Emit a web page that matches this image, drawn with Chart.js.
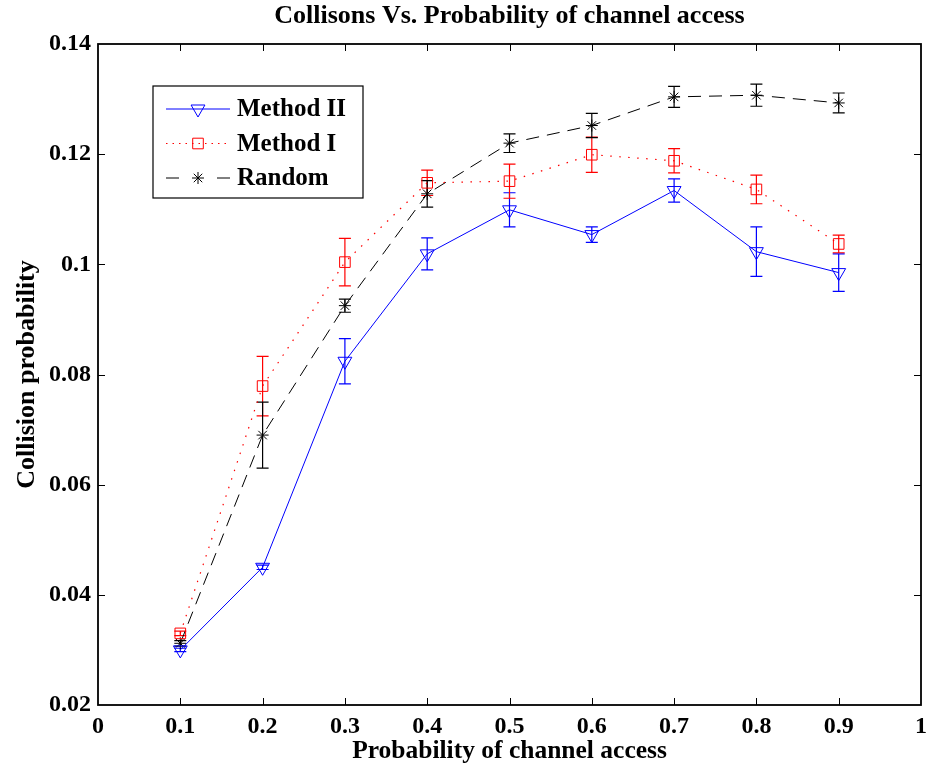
<!DOCTYPE html>
<html>
<head>
<meta charset="utf-8">
<script src="https://cdn.jsdelivr.net/npm/chart.js@4.4.0/dist/chart.umd.min.js"></script>
<style>
  html, body { margin: 0; padding: 0; background: #ffffff; }
  #wrap { width: 930px; height: 771px; }
</style>
</head>
<body>
<div id="wrap"><canvas id="chart" width="930" height="771"></canvas></div>
<script>
// Probability of channel access (x) and measured collision probability per scheme
const accessProb = [0.1, 0.2, 0.3, 0.4, 0.5, 0.6, 0.7, 0.8, 0.9];

const methodII    = [0.0300, 0.0450, 0.0824, 0.1019, 0.1099, 0.1054, 0.1134, 0.1023, 0.0985];
const methodIIErr = [0.0003, 0.0004, 0.0041, 0.0029, 0.0031, 0.0014, 0.0021, 0.0045, 0.0034];

const methodI     = [0.0330, 0.0779, 0.1004, 0.1148, 0.1151, 0.1199, 0.1188, 0.1136, 0.1037];
const methodIErr  = [0.0004, 0.0054, 0.0043, 0.0023, 0.0031, 0.0032, 0.0022, 0.0026, 0.0016];

const randomAcc   = [0.0312, 0.0690, 0.0925, 0.1128, 0.1220, 0.1252, 0.1304, 0.1307, 0.1293];
const randomErr   = [0.0005, 0.0060, 0.0012, 0.0024, 0.0017, 0.0022, 0.0019, 0.0020, 0.0018];

const seriesNames = ['Method II', 'Method I', 'Random'];
const xTickLabels = ['0', '0.1', '0.2', '0.3', '0.4', '0.5', '0.6', '0.7', '0.8', '0.9', '1'];
const yTickLabels = ['0.02', '0.04', '0.06', '0.08', '0.1', '0.12', '0.14'];

const SERIF = '"Liberation Serif", "Times New Roman", serif';

function toPoints(ys) {
  return accessProb.map((x, i) => ({ x: x, y: ys[i] }));
}

const datasets = [
  {
    label: seriesNames[0],
    data: toPoints(methodII),
    errors: methodIIErr,
    borderColor: '#0000ff',
    borderWidth: 1,
    borderDash: [],
    pointStyle: 'triangle',
    pointRotation: 180,
    pointRadius: 8,
    pointBorderColor: '#0000ff',
    pointBackgroundColor: 'rgba(0,0,0,0)',
    pointBorderWidth: 1,
    legendDash: [],
    tension: 0
  },
  {
    label: seriesNames[1],
    data: toPoints(methodI),
    errors: methodIErr,
    borderColor: '#ff0000',
    borderWidth: 1.2,
    borderDash: [1.5, 7.5],
    pointStyle: 'rect',
    pointRotation: 0,
    pointRadius: 7.5,
    pointBorderColor: '#ff0000',
    pointBackgroundColor: 'rgba(0,0,0,0)',
    pointBorderWidth: 1,
    legendDash: [1.5, 5],
    tension: 0
  },
  {
    label: seriesNames[2],
    data: toPoints(randomAcc),
    errors: randomErr,
    borderColor: '#000000',
    borderWidth: 1,
    borderDash: [13, 8],
    pointStyle: 'star',
    pointRotation: 0,
    pointRadius: 6,
    pointBorderColor: '#000000',
    pointBackgroundColor: 'rgba(0,0,0,0)',
    pointBorderWidth: 1,
    legendDash: [13, 38],
    tension: 0
  }
];

// Vertical error bars with caps, drawn under the markers
const errorBars = {
  id: 'errorBars',
  beforeDatasetsDraw(chart) {
    const { ctx, scales: { x, y } } = chart;
    ctx.save();
    chart.data.datasets.forEach(ds => {
      ctx.strokeStyle = ds.borderColor;
      ctx.lineWidth = 1.2;
      ctx.setLineDash([]);
      ds.data.forEach((p, i) => {
        const e = ds.errors[i];
        const px = x.getPixelForValue(p.x);
        const yTop = y.getPixelForValue(p.y + e);
        const yBot = y.getPixelForValue(p.y - e);
        const cap = 6;
        ctx.beginPath();
        ctx.moveTo(px, yTop); ctx.lineTo(px, yBot);
        ctx.moveTo(px - cap, yTop); ctx.lineTo(px + cap, yTop);
        ctx.moveTo(px - cap, yBot); ctx.lineTo(px + cap, yBot);
        ctx.stroke();
      });
    });
    ctx.restore();
  }
};

// Boxed axes with inward tick marks on all four sides
const boxedAxes = {
  id: 'boxedAxes',
  afterDraw(chart) {
    const { ctx, chartArea: a, scales: { x, y } } = chart;
    const len = 7;
    ctx.save();
    ctx.strokeStyle = '#000000';
    ctx.lineWidth = 1;
    ctx.setLineDash([]);
    ctx.beginPath();
    x.ticks.forEach((t, i) => {
      if (i === 0 || i === x.ticks.length - 1) return;
      const px = Math.round(x.getPixelForValue(t.value)) + 0.5;
      ctx.moveTo(px, a.bottom); ctx.lineTo(px, a.bottom - len);
      ctx.moveTo(px, a.top); ctx.lineTo(px, a.top + len);
    });
    y.ticks.forEach((t, i) => {
      if (i === 0 || i === y.ticks.length - 1) return;
      const py = Math.round(y.getPixelForValue(t.value)) + 0.5;
      ctx.moveTo(a.left, py); ctx.lineTo(a.left + len, py);
      ctx.moveTo(a.right, py); ctx.lineTo(a.right - len, py);
    });
    ctx.stroke();
    ctx.lineWidth = 1.8;
    ctx.strokeRect(a.left, a.top, a.right - a.left, a.bottom - a.top);
    ctx.restore();
  }
};

// Legend box placed inside the plot area, upper left
const insideLegend = {
  id: 'insideLegend',
  afterDraw(chart) {
    const { ctx, chartArea: a } = chart;
    const left = a.left + 55, top = a.top + 42, w = 210, h = 112;
    const rowH = 34.5, firstRow = top + 23;
    ctx.save();
    ctx.fillStyle = '#ffffff';
    ctx.fillRect(left, top, w, h);
    ctx.strokeStyle = '#000000';
    ctx.lineWidth = 1.2;
    ctx.strokeRect(left, top, w, h);
    chart.data.datasets.forEach((ds, i) => {
      const ry = firstRow + i * rowH;
      const x0 = left + 13, x1 = left + 77, xm = (x0 + x1) / 2;
      ctx.strokeStyle = ds.borderColor;
      ctx.lineWidth = ds.borderWidth;
      ctx.setLineDash(ds.legendDash);
      ctx.beginPath();
      ctx.moveTo(x0, ry); ctx.lineTo(x1, ry);
      ctx.stroke();
      ctx.setLineDash([]);
      if (Chart.helpers && Chart.helpers.drawPoint) {
        ctx.strokeStyle = ds.pointBorderColor;
        ctx.fillStyle = 'rgba(0,0,0,0)';
        ctx.lineWidth = ds.pointBorderWidth;
        Chart.helpers.drawPoint(ctx, {
          pointStyle: ds.pointStyle,
          rotation: ds.pointRotation,
          radius: ds.pointRadius,
          borderWidth: ds.pointBorderWidth
        }, xm, ry);
      }
      ctx.fillStyle = '#000000';
      ctx.font = 'bold 25px ' + SERIF;
      ctx.textAlign = 'left';
      ctx.textBaseline = 'middle';
      ctx.fillText(ds.label, left + 84, ry + 1);
    });
    ctx.restore();
  }
};

new Chart(document.getElementById('chart'), {
  type: 'line',
  data: { datasets: datasets },
  options: {
    responsive: false,
    animation: false,
    devicePixelRatio: 1,
    events: [],
    layout: { padding: { left: 0, right: 8, top: 0, bottom: 0 } },
    plugins: {
      legend: { display: false },
      tooltip: { enabled: false },
      title: {
        display: true,
        fullSize: false,
        text: 'Collisons Vs. Probability of channel access',
        color: '#000000',
        font: { family: SERIF, size: 26, weight: 'bold', lineHeight: 1.1 },
        padding: { top: 2, bottom: 13.4 }
      }
    },
    scales: {
      x: {
        type: 'linear',
        min: 0,
        max: 1,
        grid: { display: false, drawTicks: false },
        border: { display: false },
        ticks: {
          stepSize: 0.1,
          padding: 7,
          color: '#000000',
          font: { family: SERIF, size: 24, weight: 'bold', lineHeight: 1.2 },
          maxRotation: 0,
          autoSkip: false,
          callback: v => xTickLabels[Math.round(v * 10)]
        },
        title: {
          display: true,
          text: 'Probability of channel access',
          color: '#000000',
          font: { family: SERIF, size: 25.5, weight: 'bold', lineHeight: 1.2 },
          padding: { top: 0, bottom: 4 }
        },
        afterFit(scale) {
          scale.height = 66;
          scale.paddingLeft = 0;
          scale.paddingRight = 0;
        }
      },
      y: {
        type: 'linear',
        min: 0.02,
        max: 0.14,
        grid: { display: false, drawTicks: false },
        border: { display: false },
        ticks: {
          stepSize: 0.02,
          padding: 7,
          color: '#000000',
          font: { family: SERIF, size: 24, weight: 'bold', lineHeight: 1.2 },
          autoSkip: false,
          callback: v => yTickLabels[Math.round((v - 0.02) / 0.02)]
        },
        title: {
          display: true,
          text: 'Collision probability',
          color: '#000000',
          font: { family: SERIF, size: 26, weight: 'bold', lineHeight: 1.2 },
          padding: { top: 12, bottom: 0 }
        },
        afterFit(scale) {
          scale.width = 98;
          scale.paddingTop = 0;
          scale.paddingBottom = 0;
        }
      }
    }
  },
  plugins: [errorBars, boxedAxes, insideLegend]
});
</script>
</body>
</html>
